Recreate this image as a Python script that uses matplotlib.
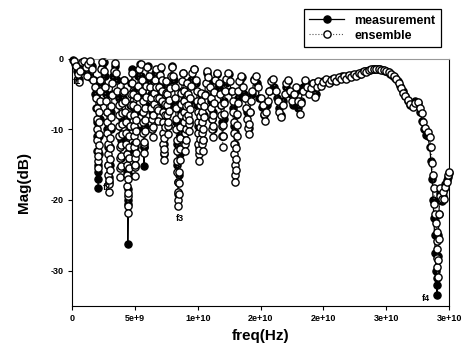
import numpy as np
import matplotlib
matplotlib.use('Agg')
import matplotlib.pyplot as plt

plt.rcParams['font.family'] = ['Liberation Sans', 'DejaVu Sans']

# ensemble: frequency (GHz) and magnitude (dB)
ens_ghz = [
    0.15, 0.3, 0.45, 0.55, 0.65, 0.8, 0.95, 1.1, 1.2, 1.3, 1.45, 1.55, 1.65,
    1.8, 1.9, 1.95, 1.98, 2.0, 2.02, 2.04, 2.06, 2.08, 2.1, 2.12, 2.14, 2.16, 2.18, 2.2, 2.22, 2.26, 2.32, 2.4, 2.5, 2.6,
    2.7, 2.75, 2.78, 2.8, 2.82, 2.84, 2.86, 2.88, 2.9, 2.93, 2.96, 2.98, 3.0, 3.02, 3.04, 3.06, 3.08, 3.1, 3.14, 3.2, 3.3, 3.4, 3.5, 3.6,
    3.7, 3.72, 3.74, 3.76, 3.78, 3.8, 3.82, 3.85, 3.88, 3.9, 3.92, 3.94, 3.96, 3.98, 4.0, 4.05, 4.1, 4.15, 4.2,
    4.25, 4.28, 4.3, 4.32, 4.34, 4.36, 4.38, 4.4, 4.41, 4.42, 4.43, 4.46, 4.48, 4.5, 4.52, 4.54, 4.56, 4.58, 4.6, 4.65, 4.7, 4.75, 4.8,
    4.85, 4.87, 4.89, 4.91, 4.93, 4.95, 4.97, 4.99, 5.01, 5.04, 5.06, 5.08, 5.1, 5.12, 5.14, 5.18, 5.25, 5.35, 5.45, 5.55,
    5.6, 5.62, 5.64, 5.66, 5.68, 5.7, 5.72, 5.75, 5.77, 5.79, 5.81, 5.85, 5.9, 6.0, 6.1,
    6.2, 6.25, 6.3, 6.34, 6.38, 6.4, 6.43, 6.46, 6.5, 6.55, 6.6, 6.65,
    6.7, 6.74, 6.78, 6.8, 6.84, 6.88, 6.92, 6.98, 7.05, 7.12,
    7.16, 7.18, 7.2, 7.22, 7.24, 7.26, 7.28, 7.3, 7.33, 7.35, 7.37, 7.39, 7.41, 7.44, 7.48,
    7.52, 7.55, 7.58, 7.6, 7.62, 7.65, 7.68, 7.72, 7.78, 7.85, 7.95, 8.05, 8.15,
    8.2, 8.23, 8.26, 8.29, 8.32, 8.34, 8.36, 8.38, 8.4, 8.42, 8.44, 8.46, 8.49, 8.51, 8.53, 8.55, 8.57, 8.59, 8.61, 8.63, 8.66, 8.7, 8.75, 8.82,
    8.88, 8.9, 8.92, 8.94, 8.96, 8.98, 9.0, 9.03, 9.05, 9.07, 9.09, 9.12, 9.16,
    9.2, 9.23, 9.26, 9.29, 9.31, 9.34, 9.37, 9.4, 9.45, 9.55, 9.7, 9.85,
    9.95, 9.97, 9.99, 10.01, 10.03, 10.05, 10.07, 10.1, 10.13, 10.15, 10.17, 10.19, 10.21, 10.24,
    10.28, 10.3, 10.32, 10.34, 10.36, 10.4, 10.43, 10.45, 10.47, 10.5, 10.55, 10.62, 10.72, 10.85, 10.95,
    11.05, 11.08, 11.11, 11.14, 11.18, 11.21, 11.24, 11.27, 11.32, 11.4, 11.5, 11.65,
    11.8, 11.85, 11.88, 11.91, 11.94, 11.98, 12.01, 12.04, 12.07, 12.1, 12.16, 12.25, 12.4, 12.55, 12.7,
    12.8, 12.83, 12.86, 12.88, 12.9, 12.92, 12.94, 12.97, 13.0, 13.03, 13.05, 13.07, 13.09, 13.11, 13.13, 13.16, 13.22, 13.3, 13.45, 13.6,
    13.75, 13.85, 13.92, 13.98, 14.05, 14.1, 14.15, 14.22, 14.32, 14.45, 14.6, 14.8, 15.0, 15.15, 15.25, 15.35, 15.45, 15.55, 15.7, 15.85, 16.0,
    16.2, 16.35, 16.5, 16.6, 16.75, 16.9, 17.05, 17.2, 17.35, 17.5, 17.65, 17.8, 17.95, 18.1, 18.25, 18.4, 18.55, 18.7, 18.85, 19.0, 19.15, 19.3, 19.45, 19.6, 19.8,
    20.0, 20.2, 20.4, 20.6, 20.8, 21.0, 21.2, 21.4, 21.6, 21.8, 22.0, 22.2, 22.4, 22.6, 22.8, 23.0, 23.2, 23.4, 23.6, 23.8,
    24.0, 24.2, 24.4, 24.6, 24.8, 25.0, 25.2, 25.4, 25.6, 25.8, 26.0, 26.2, 26.35, 26.5, 26.7, 26.9, 27.1, 27.3, 27.5, 27.7, 27.8, 27.95, 28.1, 28.3, 28.45,
    28.55, 28.65, 28.72, 28.77, 28.82, 28.9, 28.98, 29.0, 29.02, 29.04, 29.06, 29.07, 29.08, 29.12, 29.16, 29.2, 29.25, 29.3, 29.4, 29.5, 29.6, 29.7, 29.8, 29.9, 30.0,
]
ens_db = [
    -0.3, -1.0, -2.2, -3.3, -1.8, -0.5, -0.3, -1.2, -2.5, -0.8, -0.3, -1.5, -3.0,
    -4.0, -5.5, -7.0, -8.5, -10.0, -11.5, -13.0, -14.5, -15.5, -13.8, -12.2, -10.6, -9.0, -7.5, -6.0, -4.5, -3.0, -1.5, -0.5, -1.8, -4.0,
    -6.0, -7.5, -9.0, -10.5, -12.0, -13.5, -15.0, -16.5, -17.8, -18.8, -17.2, -15.7, -14.2, -12.7, -11.2, -9.7, -8.2, -6.7, -5.2, -3.5, -1.8, -0.6, -2.0, -4.5,
    -6.5, -8.0, -9.5, -11.0, -12.5, -14.0, -15.5, -16.8, -15.2, -13.7, -12.2, -10.7, -9.2, -7.7, -6.2, -4.7, -3.0, -4.5, -6.0,
    -7.5, -9.0, -10.5, -12.0, -13.5, -15.0, -16.5, -18.0, -19.5, -20.8, -21.8, -19.0, -17.0, -15.5, -14.0, -12.5, -11.0, -9.5, -8.0, -6.5, -5.0, -3.5, -2.0,
    -5.0, -6.5, -8.0, -9.5, -11.0, -12.5, -14.0, -15.3, -16.6, -15.0, -13.4, -11.8, -10.2, -8.6, -7.0, -5.4, -3.8, -1.5, -0.8, -3.0,
    -4.5, -6.0, -7.5, -9.0, -10.5, -12.0, -13.3, -11.8, -10.2, -8.6, -7.0, -5.4, -3.8, -1.2, -2.5,
    -4.0, -5.5, -7.0, -8.5, -10.0, -11.1, -9.6, -8.0, -6.4, -4.8, -3.0, -1.5,
    -4.0, -5.5, -7.0, -8.8, -7.2, -5.6, -4.0, -2.3, -1.2, -3.0,
    -4.5, -6.0, -7.5, -9.0, -10.5, -12.0, -13.3, -14.3, -12.8, -11.2, -9.6, -8.0, -6.4, -4.8, -3.2,
    -5.0, -6.5, -8.0, -9.5, -10.7, -9.0, -7.4, -5.8, -4.2, -2.5, -1.2, -2.5, -4.0,
    -5.5, -7.0, -8.5, -10.0, -11.5, -13.0, -14.5, -16.0, -17.5, -18.8, -20.0, -20.8, -19.2, -17.6, -16.0, -14.4, -12.8, -11.2, -9.6, -8.0, -6.4, -4.8, -3.2, -2.0,
    -4.5, -6.0, -7.5, -9.0, -10.5, -12.0, -13.1, -11.5, -9.9, -8.3, -6.7, -5.1, -3.5,
    -5.0, -6.5, -8.0, -9.2, -10.2, -8.7, -7.1, -5.5, -3.9, -2.0, -1.4, -3.0,
    -4.5, -6.0, -7.5, -9.0, -10.5, -12.0, -13.5, -14.5, -12.9, -11.3, -9.7, -8.1, -6.5, -4.9,
    -6.0, -7.5, -9.0, -10.5, -12.0, -13.1, -11.5, -9.9, -8.3, -6.7, -5.1, -3.5, -1.8, -2.6, -4.0,
    -5.5, -7.0, -8.5, -10.0, -11.1, -9.5, -7.9, -6.3, -4.7, -3.0, -2.0, -3.5,
    -5.0, -6.5, -8.0, -9.5, -11.0, -12.5, -11.0, -9.4, -7.8, -6.2, -4.6, -2.8, -2.0, -3.2, -4.5,
    -6.0, -7.5, -9.0, -10.5, -12.0, -13.5, -15.0, -16.4, -17.5, -15.8, -14.2, -12.6, -11.0, -9.4, -7.8, -6.2, -4.6, -3.2, -2.4, -4.0,
    -5.5, -7.0, -8.5, -9.8, -10.7, -9.2, -7.6, -6.0, -4.5, -3.0, -2.5, -4.0, -5.5, -6.5, -7.8, -8.8, -7.5, -6.0, -4.5, -3.2, -2.8,
    -4.5, -6.0, -7.5, -8.3, -6.5, -5.0, -3.5, -3.0, -4.5, -6.0, -5.0, -4.0, -6.0, -7.8, -6.2, -4.5, -3.0, -4.0, -5.0, -4.2, -3.5, -5.4, -4.0, -3.2, -3.8,
    -3.3, -2.9, -3.5, -3.0, -2.7, -3.2, -2.6, -2.9, -2.4, -2.8, -2.3, -2.6, -2.2, -2.5, -2.0, -2.2, -1.8, -1.9, -1.6, -1.5,
    -1.45, -1.45, -1.5, -1.55, -1.65, -1.75, -1.9, -2.2, -2.5, -2.9, -3.4, -4.1, -4.8, -5.3, -5.8, -6.4, -6.8, -6.3, -6.1, -7.0, -7.7, -9.0, -9.8, -10.4, -11.1,
    -12.5, -14.8, -16.5, -18.3, -20.5, -22.0, -23.3, -24.5, -25.8, -27.0, -28.2, -29.5, -30.9, -28.5, -25.5, -22.0, -19.5, -18.3, -19.8, -18.9, -19.8, -18.2, -17.5, -16.5, -16.1,
]

# measurement
meas_ghz = [
    0.1, 0.25, 0.4, 0.55, 0.7, 0.85, 1.0, 1.15, 1.3, 1.45, 1.6, 1.75,
    1.85, 1.92, 1.97, 2.0, 2.02, 2.04, 2.06, 2.07, 2.1, 2.13, 2.16, 2.19, 2.23, 2.3, 2.4, 2.5, 2.6,
    2.7, 2.76, 2.8, 2.84, 2.88, 2.92, 2.96, 3.0, 3.04, 3.08, 3.12, 3.18, 3.28, 3.4, 3.55,
    3.7, 3.78, 3.83, 3.86, 3.9, 3.95, 4.02, 4.12,
    4.22, 4.28, 4.32, 4.36, 4.39, 4.41, 4.42, 4.43, 4.47, 4.5, 4.54, 4.58, 4.64, 4.72, 4.8,
    4.86, 4.9, 4.93, 4.96, 4.98, 5.02, 5.06, 5.1, 5.16, 5.28, 5.4, 5.52,
    5.6, 5.64, 5.67, 5.7, 5.72, 5.76, 5.8, 5.85, 5.92, 6.02, 6.15, 6.25, 6.32, 6.38, 6.44, 6.52, 6.62, 6.72, 6.8, 6.88, 7.0,
    7.1, 7.18, 7.23, 7.28, 7.31, 7.36, 7.42, 7.5, 7.58, 7.62, 7.68, 7.8, 7.95, 8.1,
    8.22, 8.28, 8.33, 8.37, 8.41, 8.45, 8.5, 8.55, 8.6, 8.65, 8.72, 8.82,
    8.9, 8.95, 9.0, 9.06, 9.12, 9.2, 9.26, 9.31, 9.38, 9.5, 9.7, 9.88, 9.97, 10.03, 10.08, 10.14, 10.2, 10.28, 10.34, 10.4, 10.46, 10.55, 10.7, 10.9,
    11.05, 11.12, 11.18, 11.25, 11.35, 11.5, 11.7, 11.85, 11.92, 11.98, 12.05, 12.12, 12.25, 12.45, 12.65, 12.8, 12.87, 12.93, 13.0, 13.08, 13.18, 13.35, 13.5,
    13.7, 13.9, 14.05, 14.15, 14.3, 14.5, 14.7, 14.9, 15.1, 15.3, 15.5, 15.7, 15.9, 16.1, 16.3, 16.45, 16.6, 16.8, 17.0, 17.2, 17.4, 17.6, 17.8, 18.0, 18.2,
    18.4, 18.6, 18.8, 19.0, 19.2, 19.4, 19.6, 19.8, 20.0, 20.3, 20.5, 20.7, 20.9, 21.1, 21.3, 21.5, 21.7, 21.9, 22.1, 22.3, 22.5, 22.7, 22.9, 23.1, 23.3,
    23.5, 23.7, 23.9, 24.1, 24.3, 24.5, 24.7, 24.9, 25.1, 25.3, 25.5, 25.7, 25.9, 26.1, 26.3, 26.5, 26.7, 26.9, 27.1, 27.3, 27.5, 27.7, 27.85, 28.0, 28.15,
    28.3, 28.45, 28.55, 28.65, 28.72, 28.78, 28.84, 28.9, 28.95, 29.0, 29.02, 29.06, 29.1, 29.14, 29.18, 29.24, 29.3, 29.4, 29.5, 29.6, 29.7, 29.8, 29.9, 30.0,
]
meas_db = [
    -0.2, -0.8, -1.8, -2.8, -1.2, -0.4, -1.8, -0.6, -1.5, -2.6, -1.0, -3.0,
    -5.0, -7.0, -9.0, -11.0, -13.0, -15.0, -17.0, -18.3, -16.0, -13.5, -11.0, -8.5, -6.0, -3.5, -1.2, -0.5, -2.5,
    -5.0, -7.5, -10.0, -12.5, -15.0, -16.8, -17.4, -15.0, -12.5, -10.0, -7.5, -5.0, -2.5, -1.0, -3.0,
    -5.5, -8.0, -11.0, -14.0, -11.5, -8.5, -5.5, -3.0,
    -6.0, -8.5, -11.0, -13.5, -16.0, -18.5, -20.6, -26.2, -20.0, -16.5, -13.0, -9.5, -6.5, -3.5, -1.5,
    -4.5, -7.0, -9.5, -12.0, -15.0, -12.5, -10.0, -7.5, -5.0, -2.5, -0.7, -2.5,
    -5.0, -7.5, -10.0, -12.5, -15.2, -12.5, -9.5, -6.5, -3.5, -1.0, -3.0, -5.0, -7.5, -10.0, -7.5, -5.0, -2.0, -4.0, -7.0, -4.5, -1.5,
    -3.0, -6.0, -9.0, -12.0, -13.5, -10.5, -7.0, -4.0, -7.0, -9.5, -6.5, -3.0, -1.0, -3.0,
    -6.0, -9.0, -12.0, -15.0, -17.5, -19.2, -16.5, -13.5, -10.5, -7.5, -4.5, -2.0,
    -5.0, -8.0, -11.5, -8.0, -5.0, -3.5, -6.5, -9.0, -6.0, -3.0, -1.5, -3.5, -6.5, -9.5, -12.5, -9.5, -6.5, -5.0, -8.5, -11.5, -8.0, -5.0, -2.0, -3.5,
    -6.0, -8.5, -10.0, -7.5, -4.5, -2.2, -4.0, -6.5, -9.0, -11.0, -8.5, -6.0, -3.5, -2.2, -4.5, -7.0, -9.5, -12.0, -10.4, -8.0, -5.5, -3.0, -2.6,
    -5.0, -7.5, -9.8, -7.5, -5.0, -2.8, -3.5, -5.5, -6.8, -8.0, -6.5, -4.5, -3.0, -4.0, -5.5, -7.0, -8.0, -6.0, -4.0, -3.2, -5.0, -6.5, -4.5, -7.0, -6.0,
    -4.0, -3.5, -4.5, -4.0, -3.5, -5.0, -3.5, -3.6, -3.2, -3.2, -3.3, -2.8, -3.0, -2.8, -2.7, -2.5, -2.6, -2.4, -2.5, -2.3, -2.3, -2.1, -2.1, -1.9, -1.8,
    -1.7, -1.55, -1.45, -1.4, -1.45, -1.5, -1.6, -1.75, -1.9, -2.1, -2.4, -2.7, -3.2, -3.8, -4.6, -5.3, -6.0, -6.6, -6.3, -6.0, -6.2, -7.5, -8.8, -10.0, -10.8,
    -11.0, -12.5, -14.5, -17.0, -20.0, -22.5, -25.0, -27.5, -30.0, -32.0, -33.4, -31.0, -28.0, -25.0, -22.0, -20.0, -19.0, -20.2, -19.5, -18.5, -17.8, -17.2, -16.8, -16.2,
]

# axis ticks as printed on the original
x_ticks = [0, 5e9, 1e10, 1.5e10, 2e10, 2.5e10, 3e10]
x_labels = ['0', '5e+9', '1e+10', '2e+10', '2e+10', '3e+10', '3e+10']
y_ticks = [0, -10, -20, -30]
y_labels = ['0', '-10', '-20', '-30']

# resonance markers
note_text = ['f1', 'f2', 'f3', 'f4']
note_ghz = [0.05, 2.45, 8.25, 27.85]
note_db = [-3.2, -18.3, -22.6, -34.0]

fig = plt.figure(figsize=(4.65, 3.52), dpi=100)
ax = fig.add_axes([0.155, 0.131, 0.811, 0.702])

ax.plot(np.array(meas_ghz) * 1e9, meas_db, '-', color='black', lw=0.9,
        marker='o', ms=5.2, mfc='black', mec='black', mew=0.9,
        label='measurement', clip_on=False, zorder=2)
ax.plot(np.array(ens_ghz) * 1e9, ens_db, ':', color='#555555', lw=0.8,
        marker='o', ms=5.2, mfc='white', mec='black', mew=1.0,
        label='ensemble', clip_on=False, zorder=3)

for t, f, d in zip(note_text, note_ghz, note_db):
    ax.text(f * 1e9, d, t, fontsize=6.5, fontweight='bold', ha='left', va='center', zorder=5)

ax.set_xlim(0, 3e10)
ax.set_ylim(-35, 0)
ax.set_xticks(x_ticks)
ax.set_xticklabels(x_labels, fontsize=6.5, fontweight='bold')
ax.set_yticks(y_ticks)
ax.set_yticklabels(y_labels, fontsize=6.5, fontweight='bold')
ax.tick_params(direction='out', length=3, width=0.8, pad=3)

ax.set_xlabel('freq(Hz)', fontsize=11, fontweight='bold', labelpad=4)
ax.set_ylabel('Mag(dB)', fontsize=11, fontweight='bold', labelpad=14)

for side in ['left', 'bottom', 'right']:
    ax.spines[side].set_linewidth(0.8)
ax.spines['top'].set_color('#999999')
ax.spines['top'].set_linewidth(0.8)

leg = fig.legend(loc='upper right', bbox_to_anchor=(0.962, 0.992), fancybox=False,
                 edgecolor='black', framealpha=1, handlelength=2.8,
                 prop={'size': 9, 'weight': 'bold'}, borderpad=0.45, labelspacing=0.25)
leg.get_frame().set_linewidth(0.9)

fig.savefig('out.png', dpi=100)
